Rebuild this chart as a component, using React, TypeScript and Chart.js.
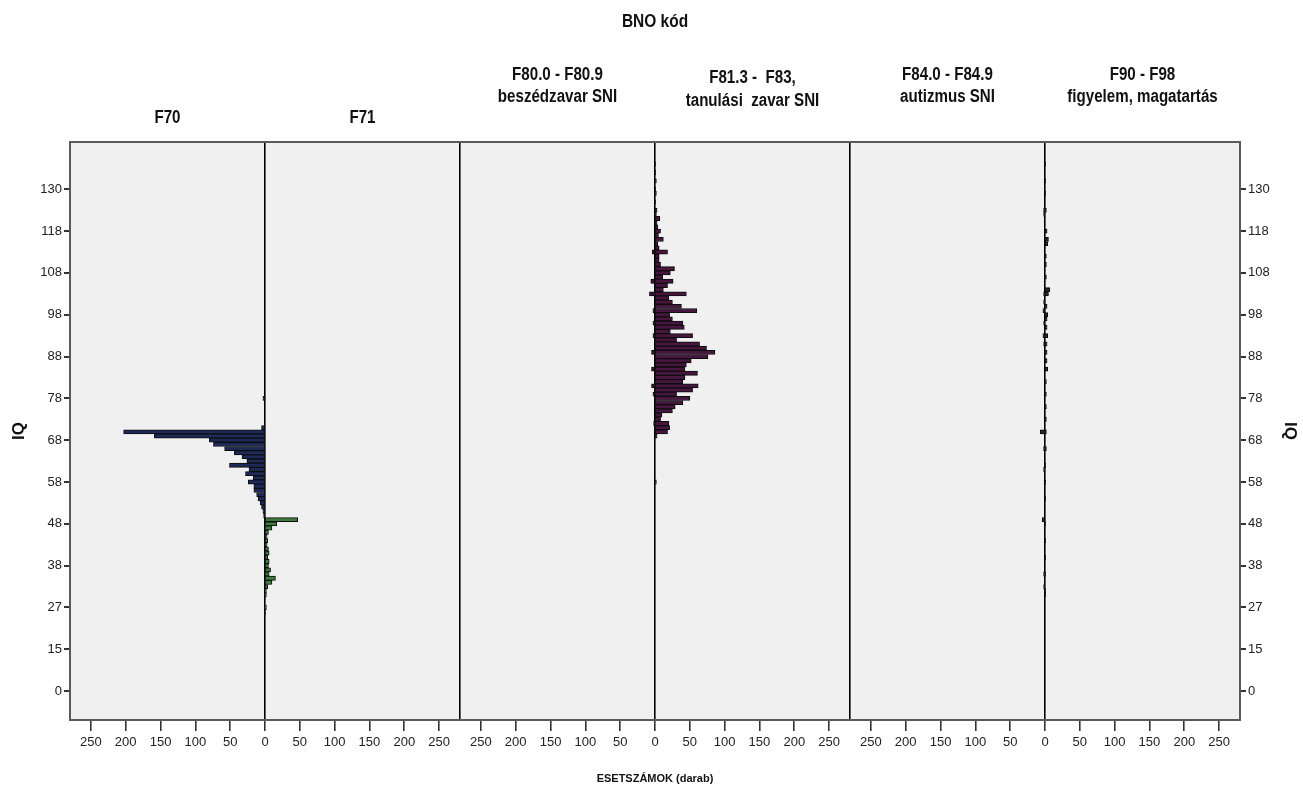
import { useEffect, useRef } from 'react';
import { Chart, registerables } from 'chart.js';

Chart.register(...registerables);

const FONT = "'Liberation Sans', Arial, sans-serif";

// Distinct IQ values observed (category axis, bottom to top)
const IQ_CATEGORIES = [
  0, 1, 3, 4, 6, 7, 9, 10, 12, 13,
  15, 16, 17, 19, 20, 21, 22, 23, 24, 26,
  27, 28, 29, 30, 31, 33, 34, 35, 36, 37,
  38, 39, 40, 41, 42, 43, 44, 45, 46, 47,
  48, 49, 50, 51, 52, 53, 54, 55, 56, 57,
  58, 59, 60, 61, 62, 63, 64, 65, 66, 67,
  68, 69, 70, 71, 72, 73, 74, 75, 76, 77,
  78, 79, 80, 81, 82, 83, 84, 85, 86, 87,
  88, 89, 90, 91, 92, 93, 94, 95, 96, 97,
  98, 99, 100, 101, 102, 103, 104, 105, 106, 107,
  108, 109, 110, 111, 112, 113, 114, 115, 116, 117,
  118, 119, 120, 121, 122, 124, 125, 126, 127, 128,
  130, 131, 132, 133, 134, 135, 136, 137, 138, 139, 140, 141,
];

const Y_TICK_LABELS = [0, 15, 27, 38, 48, 58, 68, 78, 88, 98, 108, 118, 130];
const X_TICK_LABELS = [0, 50, 100, 150, 200, 250];

const MAIN_TITLE = 'BNO kód';
const X_TITLE = 'ESETSZÁMOK (darab)';
const Y_TITLE = 'IQ';
const PANEL_TITLES = [
  ['F70'],
  ['F71'],
  ['F80.0 - F80.9', 'beszédzavar SNI'],
  ['F81.3 -  F83,', 'tanulási  zavar SNI'],
  ['F84.0 - F84.9', 'autizmus SNI'],
  ['F90 - F98', 'figyelem, magatartás'],
];

// F70 (left of first pair)
const F70_IQ = [78, 71, 70, 69, 68, 67, 66, 65, 64, 63, 62, 61, 60, 59, 58, 57, 56, 55, 54, 53, 52, 51, 50];
const F70_N = [3, 5, 203, 159, 80, 74, 58, 44, 33, 26, 51, 23, 28, 17, 24, 16, 16, 12, 10, 7, 5, 3, 2];

// F71 (right of first pair)
const F71_IQ = [49, 48, 47, 46, 45, 44, 43, 42, 41, 40, 39, 38, 37, 36, 35, 34, 33, 31, 30, 27, 26];
const F71_N = [47, 17, 10, 5, 3, 4, 3, 5, 6, 4, 6, 5, 8, 6, 15, 10, 4, 2, 2, 2, 1];

// F80.0 - F80.9 (left of second pair)
const F80_IQ = [113, 106, 103, 99, 96, 93, 89, 85, 81, 79, 72];
const F80_N = [4, 6, 8, 3, 3, 3, 5, 5, 5, 3, 2];

// F81.3 - F83 (right of second pair)
const F81_IQ = [
  136, 134, 132, 130, 128, 126, 124, 122,
  121, 120, 119, 118, 117, 116, 115, 114, 113, 112, 111, 110, 109, 108, 107, 106, 105, 104, 103, 102, 101, 100,
  99, 98, 97, 96, 95, 94, 93, 92, 91, 90, 89, 88, 87, 86, 85, 84, 83, 82, 81, 80, 79, 78, 77, 76, 75, 74, 73, 72, 71, 70, 69,
  58,
];
const F81_N = [
  1, 1, 2, 1, 2, 1, 3, 2,
  7, 3, 4, 8, 5, 12, 4, 6, 18, 6, 6, 8, 28, 22, 11, 26, 18, 12, 45, 20, 25, 38,
  60, 21, 25, 40, 42, 22, 54, 31, 64, 74, 86, 76, 52, 45, 43, 61, 43, 40, 62, 54, 31, 50, 40, 29, 25, 10, 8, 20, 21, 18, 3,
  2,
];

// F84.0 - F84.9 (left of third pair)
const F84_IQ = [124, 122, 103, 101, 99, 96, 93, 91, 70, 66, 61, 49, 36, 33];
const F84_N = [2, 2, 2, 2, 3, 2, 3, 2, 7, 2, 2, 4, 2, 2];

// F90 - F98 (right of third pair)
const F90_IQ = [136, 132, 128, 124, 118, 116, 115, 112, 110, 107, 104, 103, 100, 98, 97, 95, 93, 91, 89, 87, 85, 82, 79, 76, 73, 70, 66, 62, 58, 54, 48, 44, 40, 36, 31, 30];
const F90_N = [1, 1, 1, 2, 3, 5, 4, 2, 2, 2, 7, 5, 3, 4, 3, 3, 4, 3, 3, 3, 4, 2, 2, 2, 2, 2, 2, 1, 1, 1, 1, 1, 1, 1, 1, 1];

const HALF = 280; // units per half panel
const CENTERS = [HALF, HALF * 3, HALF * 5];
const BOUNDS = [HALF * 2, HALF * 4];

function toBars(iq: number[], n: number[], center: number, side: number) {
  const out: { x: [number, number]; y: number }[] = [];
  iq.forEach((v, i) => {
    const idx = IQ_CATEGORIES.indexOf(v);
    if (idx < 0) return;
    const a = center;
    const b = center + side * n[i];
    out.push({ x: [Math.min(a, b), Math.max(a, b)], y: idx });
  });
  return out;
}

function nearestCenter(v: number) {
  let best = CENTERS[0];
  CENTERS.forEach((c) => {
    if (Math.abs(c - v) < Math.abs(best - v)) best = c;
  });
  return best;
}

function narrowText(ctx: CanvasRenderingContext2D, text: string, x: number, y: number, sx: number) {
  ctx.save();
  ctx.translate(x, y);
  ctx.scale(sx, 1);
  ctx.fillText(text, 0, 0);
  ctx.restore();
}

const decor = {
  id: 'decor',
  beforeDraw(chart: any) {
    const { ctx, chartArea: a, width, height } = chart;
    ctx.save();
    ctx.fillStyle = '#ffffff';
    ctx.fillRect(0, 0, width, height);
    ctx.fillStyle = '#f0f0f0';
    ctx.fillRect(a.left, a.top, a.right - a.left, a.bottom - a.top);
    ctx.restore();
  },
  afterDraw(chart: any) {
    const { ctx, chartArea: a } = chart;
    const xs = chart.scales.x;
    ctx.save();
    ctx.strokeStyle = '#5a5a5a';
    ctx.lineWidth = 2;
    ctx.strokeRect(a.left, a.top, a.right - a.left, a.bottom - a.top);
    ctx.fillStyle = '#111';
    ctx.textAlign = 'center';
    ctx.textBaseline = 'middle';
    ctx.font = `bold 18px ${FONT}`;
    narrowText(ctx, MAIN_TITLE, (a.left + a.right) / 2, 22, 0.86);
    const yPos = [[118], [118], [75, 97], [78, 101], [75, 97], [75, 97]];
    PANEL_TITLES.forEach((lines, k) => {
      const cx = xs.getPixelForValue(HALF * (k + 0.5));
      lines.forEach((t, i) => narrowText(ctx, t, cx, yPos[k][i], 0.84));
    });
    ctx.restore();
  },
};

export default function App() {
  const ref = useRef<HTMLCanvasElement | null>(null);

  useEffect(() => {
    if (!ref.current) return;
    const border = '#0d0d0d';
    const yTicks = Y_TICK_LABELS.map((l) => IQ_CATEGORIES.indexOf(l));
    const xTicks: number[] = [];
    CENTERS.forEach((c) => {
      X_TICK_LABELS.forEach((t) => {
        xTicks.push(c - t);
        if (t > 0) xTicks.push(c + t);
      });
    });
    BOUNDS.forEach((b) => xTicks.push(b));
    xTicks.sort((p, q) => p - q);

    const isLine = (v: number) => CENTERS.includes(v) || BOUNDS.includes(v);

    const yScale = (position: 'left' | 'right', width: number, pad: number) => ({
      type: 'linear' as const,
      position,
      display: true,
      offset: false,
      min: -6.9,
      max: 131.3,
      afterBuildTicks: (s: any) => {
        s.ticks = yTicks.map((v) => ({ value: v }));
      },
      afterFit: (s: any) => {
        s.width = width;
      },
      ticks: {
        callback: (v: any) => String(IQ_CATEGORIES[v as number]),
        color: '#222',
        font: { family: FONT, size: 13 },
        padding: 2,
        autoSkip: false,
      },
      grid: { offset: false, drawOnChartArea: false, tickLength: 6, tickColor: '#333', lineWidth: 2 },
      border: { display: false },
      title: {
        display: true,
        text: Y_TITLE,
        color: '#111',
        font: { family: FONT, size: 17, weight: 'bold' as const },
        padding: { top: pad, bottom: 0 },
      },
    });

    const chart = new Chart(ref.current, {
      type: 'bar',
      data: {
        datasets: [
          { label: 'F70', data: toBars(F70_IQ, F70_N, CENTERS[0], -1), backgroundColor: '#1d2a58' },
          { label: 'F71', data: toBars(F71_IQ, F71_N, CENTERS[0], 1), backgroundColor: '#3e7a3b' },
          { label: 'F80', data: toBars(F80_IQ, F80_N, CENTERS[1], -1), backgroundColor: '#3a1238' },
          { label: 'F81', data: toBars(F81_IQ, F81_N, CENTERS[1], 1), backgroundColor: '#46163f' },
          { label: 'F84', data: toBars(F84_IQ, F84_N, CENTERS[2], -1), backgroundColor: '#2a2a2a' },
          { label: 'F90', data: toBars(F90_IQ, F90_N, CENTERS[2], 1), backgroundColor: '#2a2a2a' },
        ] as any,
      },
      options: {
        animation: false,
        responsive: false,
        indexAxis: 'y',
        layout: { padding: { top: 142, left: 0, right: 0, bottom: 0 } },
        datasets: {
          bar: {
            grouped: false,
            barPercentage: 1,
            categoryPercentage: 1,
            borderColor: border,
            borderWidth: 1,
            borderSkipped: false,
          },
        } as any,
        plugins: { legend: { display: false }, tooltip: { enabled: false } },
        scales: {
          x: {
            type: 'linear',
            min: 0,
            max: HALF * 6,
            afterBuildTicks: (s: any) => {
              s.ticks = xTicks.map((v) => ({ value: v }));
            },
            afterFit: (s: any) => {
              s.height = 73;
            },
            ticks: {
              callback: (v: any) => (BOUNDS.includes(v) ? '' : String(Math.abs(v - nearestCenter(v)))),
              color: '#222',
              font: { family: FONT, size: 13 },
              padding: 4,
              autoSkip: false,
              maxRotation: 0,
            },
            grid: {
              drawOnChartArea: true,
              tickLength: 11,
              color: (c: any) => (c.tick && isLine(c.tick.value) ? '#000' : 'rgba(0,0,0,0)'),
              tickColor: (c: any) => (c.tick && BOUNDS.includes(c.tick.value) ? 'rgba(0,0,0,0)' : '#333'),
              lineWidth: 1.6,
            } as any,
            border: { display: false },
            title: {
              display: true,
              text: X_TITLE,
              color: '#111',
              font: { family: FONT, size: 11, weight: 'bold' },
              padding: { top: 0, bottom: 7 },
            },
          },
          y: yScale('left', 70, 9) as any,
          y2: yScale('right', 63, 3) as any,
        },
      },
      plugins: [decor],
    });
    return () => chart.destroy();
  }, []);

  return (
    <div style={{ position: 'absolute', left: 0, top: 0, width: 1303, height: 793, background: '#fff' }}>
      <canvas ref={ref} width={1303} height={793} />
    </div>
  );
}
